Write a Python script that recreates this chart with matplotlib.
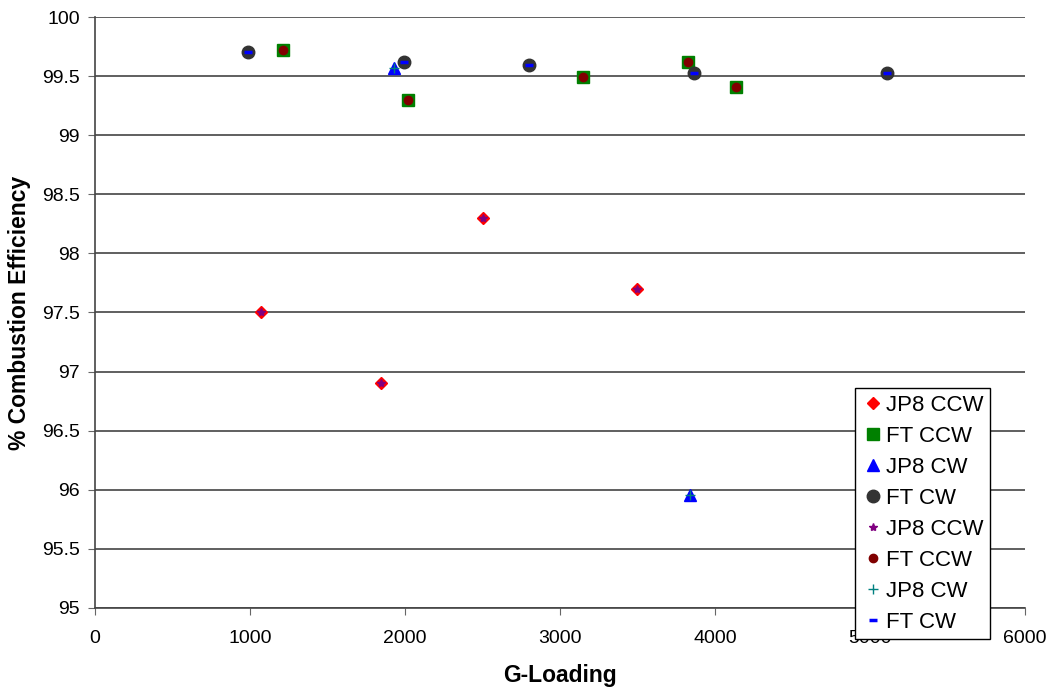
import matplotlib.pyplot as plt

plt.rcParams['font.family'] = ['Liberation Sans', 'DejaVu Sans']

# G-loading vs combustion efficiency
jp8_ccw_x = [1070, 1845, 2503, 3497]
jp8_ccw_y = [97.5, 96.9, 98.3, 97.7]

ft_ccw_x = [1213, 2019, 3148, 3826, 4135]
ft_ccw_y = [99.72, 99.30, 99.49, 99.62, 99.41]

jp8_cw_x = [1929, 3839]
jp8_cw_y = [99.57, 95.96]

ft_cw_x = [990, 1994, 2800, 3865, 5110]
ft_cw_y = [99.70, 99.62, 99.59, 99.53, 99.53]

fig = plt.figure(figsize=(10.53, 6.89), dpi=100)
ax = fig.add_axes([0.0902, 0.1176, 0.8832, 0.8577])

ax.plot(jp8_ccw_x, jp8_ccw_y, 'D', color='red', markersize=6, label='JP8 CCW', zorder=3)
ax.plot(ft_ccw_x, ft_ccw_y, 's', color='green', markersize=9, label='FT CCW', zorder=3)
ax.plot(jp8_cw_x, jp8_cw_y, '^', color='blue', markersize=9, label='JP8 CW', zorder=3)
ax.plot(ft_cw_x, ft_cw_y, 'o', color='#333333', mec='#333333', markersize=9, label='FT CW', zorder=3)
ax.plot(jp8_ccw_x, jp8_ccw_y, '*', color='purple', markersize=6, label='JP8 CCW', zorder=4)
ax.plot(ft_ccw_x, ft_ccw_y, 'o', color='#800000', markersize=6, label='FT CCW', zorder=4)
ax.plot(jp8_cw_x, jp8_cw_y, '+', color='teal', markersize=7, label='JP8 CW', zorder=4)
ax.plot(ft_cw_x, ft_cw_y, '_', color='blue', markersize=6, markeredgewidth=2.5, label='FT CW', zorder=4)

ax.set_xlim(0, 6000)
ax.set_ylim(95, 100)
ax.set_xticks(range(0, 6001, 1000))
ax.set_yticks([95, 95.5, 96, 96.5, 97, 97.5, 98, 98.5, 99, 99.5, 100])
ax.set_yticklabels(['95', '95.5', '96', '96.5', '97', '97.5', '98', '98.5', '99', '99.5', '100'])
ax.yaxis.grid(True, color='#444444', linewidth=1.2)
ax.set_axisbelow(True)
ax.spines['top'].set_visible(False)
ax.spines['right'].set_visible(False)
for s in ['left', 'bottom']:
    ax.spines[s].set_color('#444444')
    ax.spines[s].set_linewidth(1.2)
ax.tick_params(labelsize=14, direction='out', length=5, color='#666666')
ax.tick_params(axis='x', pad=11)
ax.tick_params(axis='y', pad=6)

ax.set_xlabel('G-Loading', fontsize=16.5, fontweight='bold', labelpad=12)
ax.set_ylabel('% Combustion Efficiency', fontsize=16.5, fontweight='bold', labelpad=8)

fig.legend(loc='upper left', bbox_to_anchor=(0.812, 0.437), fontsize=16,
           frameon=True, fancybox=False, edgecolor='black', framealpha=1,
           handletextpad=0.1, handlelength=1.0, labelspacing=0.45,
           borderaxespad=0, borderpad=0.3, handleheight=0.7)

fig.savefig('out.png', dpi=100)
